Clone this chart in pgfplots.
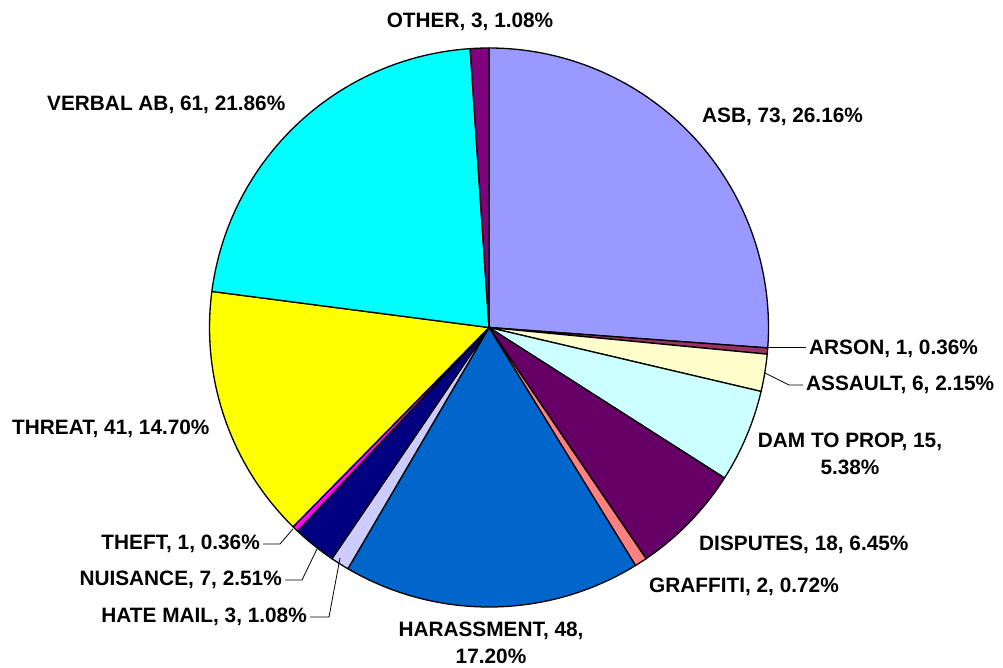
\documentclass[border=0pt]{standalone}
\usepackage{pgfplots}
\pgfplotsset{compat=1.18}
\usepackage{pgfplotstable}
\usepackage{fontspec}
\setmainfont{Liberation Sans}

\definecolor{cASB}{HTML}{9999FF}
\definecolor{cARSON}{HTML}{993366}
\definecolor{cASSAULT}{HTML}{FFFFCC}
\definecolor{cDAM}{HTML}{CCFFFF}
\definecolor{cDISP}{HTML}{660066}
\definecolor{cGRAF}{HTML}{FF8080}
\definecolor{cHARA}{HTML}{0066CC}
\definecolor{cHATE}{HTML}{CCCCFF}
\definecolor{cNUIS}{HTML}{000080}
\definecolor{cTHEFT}{HTML}{FF00FF}
\definecolor{cTHREAT}{HTML}{FFFF00}
\definecolor{cVERB}{HTML}{00FFFF}
\definecolor{cOTHER}{HTML}{800080}

\tikzset{lbl/.style={font=\bfseries\fontsize{20.8}{27}\selectfont, inner sep=0pt}}

\pgfplotstableread[col sep=comma]{
name,value,color
ASB,73,cASB
ARSON,1,cARSON
ASSAULT,6,cASSAULT
DAM TO PROP,15,cDAM
DISPUTES,18,cDISP
GRAFFITI,2,cGRAF
HARASSMENT,48,cHARA
HATE MAIL,3,cHATE
NUISANCE,7,cNUIS
THEFT,1,cTHEFT
THREAT,41,cTHREAT
VERBAL AB,61,cVERB
OTHER,3,cOTHER
}\piedata

\begin{document}
\begin{tikzpicture}
\begin{axis}[
  scale only axis, width=1003pt, height=668pt,
  xmin=0, xmax=1003, ymin=0, ymax=668, y dir=reverse,
  hide axis, clip=false,
]
\path (axis cs:0,0) rectangle (axis cs:1003,668);
\xdef\cum{0}
\xdef\total{279}
\pgfplotsinvokeforeach{0,...,12}{
  \pgfplotstablegetelem{#1}{value}\of\piedata \let\v\pgfplotsretval
  \pgfplotstablegetelem{#1}{color}\of\piedata \let\c\pgfplotsretval
  \pgfmathsetmacro\a{90-(\cum/\total)*360}
  \pgfmathsetmacro\b{90-((\cum+\v)/\total)*360}
  \edef\temp{\noexpand\filldraw[fill=\c, draw=black, line width=1.3pt, line join=round]
     (axis cs:489,327.5) -- ++(\a:279.5pt) arc[start angle=\a, end angle=\b, radius=279.5pt] -- cycle;}
  \temp
  \pgfmathparse{\cum+\v}\xdef\cum{\pgfmathresult}
}
% leader lines
\draw[black, line width=0.8pt] (axis cs:767,347.5) -- (axis cs:806,347.5);
\draw[black, line width=0.8pt] (axis cs:765,373) -- (axis cs:789,385) -- (axis cs:803,385);
\draw[black, line width=0.8pt] (axis cs:293,529) -- (axis cs:280,544) -- (axis cs:263,544);
\draw[black, line width=0.8pt] (axis cs:317,549) -- (axis cs:302,580) -- (axis cs:285,580);
\draw[black, line width=0.8pt] (axis cs:340,558) -- (axis cs:329,617) -- (axis cs:310,617);
% labels
\node[lbl, anchor=center] at (axis cs:470,22) {OTHER, 3, 1.08\%};
\node[lbl, anchor=west] at (axis cs:702,117) {ASB, 73, 26.16\%};
\node[lbl, anchor=west] at (axis cs:47,104.5) {VERBAL AB, 61, 21.86\%};
\node[lbl, anchor=west] at (axis cs:809,349) {ARSON, 1, 0.36\%};
\node[lbl, anchor=west] at (axis cs:806,385) {ASSAULT, 6, 2.15\%};
\node[lbl, anchor=center, align=center] at (axis cs:850,453.5) {DAM TO PROP, 15,\\5.38\%};
\node[lbl, anchor=west] at (axis cs:699,544.5) {DISPUTES, 18, 6.45\%};
\node[lbl, anchor=west] at (axis cs:649,587) {GRAFFITI, 2, 0.72\%};
\node[lbl, anchor=center, align=center] at (axis cs:491,642.5) {HARASSMENT, 48,\\17.20\%};
\node[lbl, anchor=east] at (axis cs:307,617) {HATE MAIL, 3, 1.08\%};
\node[lbl, anchor=east] at (axis cs:282,580) {NUISANCE, 7, 2.51\%};
\node[lbl, anchor=east] at (axis cs:260,544) {THEFT, 1, 0.36\%};
\node[lbl, anchor=west] at (axis cs:12,428.5) {THREAT, 41, 14.70\%};
\end{axis}
\end{tikzpicture}
\end{document}
